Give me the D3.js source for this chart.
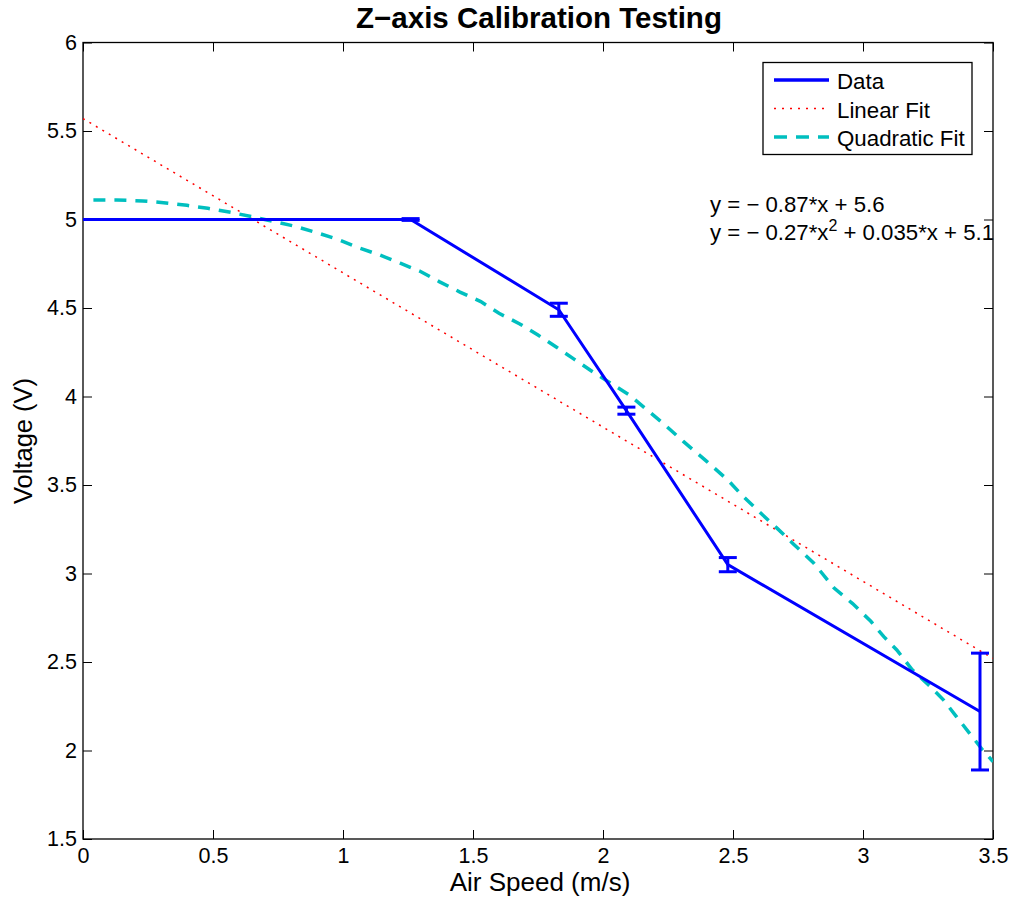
<!DOCTYPE html>
<html>
<head>
<meta charset="utf-8">
<script src="https://cdn.jsdelivr.net/npm/d3@7"></script>
<style>
  body { margin: 0; background: #fff; }
  svg text { font-family: "Liberation Sans", Arial, sans-serif; fill: #000; }
</style>
</head>
<body>
<svg id="chart" width="1013" height="900"></svg>
<script>
// measured data with error bars
var speed = [0, 1.26, 1.83, 2.09, 2.48, 3.45];
var voltage = [5, 5, 4.49, 3.92, 3.05, 2.22];
var voltErr = [0, 0.005, 0.037, 0.02, 0.04, 0.33];

// linear fit, end points
var linX = [0, 3.5];
var linY = [5.57, 2.52];

// quadratic fit, points
var quadX = [0.04, 0.13, 0.23, 0.31, 0.40, 0.48, 0.57, 0.65, 0.73, 0.82, 0.90, 0.98, 1.05, 1.14, 1.22,
  1.30, 1.37, 1.45, 1.53, 1.60, 1.68, 1.75, 1.82, 1.89, 1.96, 2.04, 2.10, 2.17, 2.23, 2.31, 2.40,
  2.48, 2.54, 2.60, 2.67, 2.73, 2.81, 2.89, 2.96, 3.03, 3.08, 3.13, 3.19, 3.26, 3.31, 3.36, 3.41, 3.46, 3.50];
var quadY = [5.11, 5.11, 5.105, 5.095, 5.08, 5.063, 5.04, 5.016, 4.99, 4.96, 4.925, 4.888, 4.846, 4.80, 4.753,
  4.705, 4.649, 4.59, 4.536, 4.47, 4.41, 4.347, 4.28, 4.21, 4.14, 4.065, 4.01, 3.924, 3.85, 3.745, 3.632,
  3.528, 3.434, 3.35, 3.255, 3.17, 3.06, 2.916, 2.83, 2.73, 2.643, 2.568, 2.455, 2.36, 2.285, 2.19, 2.097, 2.003, 1.937];

var xTicks = [0, 0.5, 1, 1.5, 2, 2.5, 3, 3.5];
var yTicks = [1.5, 2, 2.5, 3, 3.5, 4, 4.5, 5, 5.5, 6];

var legendNames = ["Data", "Linear Fit", "Quadratic Fit"];
var eqLinear = "y = \u2212 0.87*x + 5.6";

var margin = {top: 42.5, right: 20, bottom: 61, left: 83},
    width = 993 - margin.left,
    height = 839 - margin.top;

var svg = d3.select("#chart");
var g = svg.append("g")
  .attr("transform", "translate(" + margin.left + "," + margin.top + ")");

var x = d3.scaleLinear().domain([0, 3.5]).range([0, width]);
var y = d3.scaleLinear().domain([1.5, 6]).range([height, 0]);

var fmt = d3.format("~g");

g.append("defs").append("clipPath").attr("id", "clip")
  .append("rect").attr("width", width).attr("height", height);

// axes, ticks pointing inward on all four sides
function styleAxis(sel) {
  sel.select(".domain").remove();
  sel.selectAll(".tick line").attr("stroke", "#000");
  sel.selectAll(".tick text").attr("font-size", 21.5).attr("fill", "#000");
}

g.append("g")
  .attr("transform", "translate(0," + height + ")")
  .call(d3.axisBottom(x).tickValues(xTicks).tickFormat(fmt).tickSizeInner(-9).tickSizeOuter(0).tickPadding(14))
  .call(styleAxis)
  .selectAll(".tick text").attr("dy", "0.71em").attr("y", 9);

g.append("g")
  .call(d3.axisTop(x).tickValues(xTicks).tickSizeInner(-9).tickSizeOuter(0).tickFormat(""))
  .call(styleAxis);

g.append("g")
  .call(d3.axisLeft(y).tickValues(yTicks).tickFormat(fmt).tickSizeInner(-9).tickSizeOuter(0).tickPadding(14))
  .call(styleAxis)
  .selectAll(".tick text").attr("x", -6);

g.append("g")
  .attr("transform", "translate(" + width + ",0)")
  .call(d3.axisRight(y).tickValues(yTicks).tickSizeInner(-9).tickSizeOuter(0).tickFormat(""))
  .call(styleAxis);

g.append("rect")
  .attr("width", width).attr("height", height)
  .attr("fill", "none").attr("stroke", "#000").attr("stroke-width", 1.3);

var plot = g.append("g").attr("clip-path", "url(#clip)");

// linear fit
plot.append("path")
  .datum(d3.zip(linX, linY))
  .attr("fill", "none")
  .attr("stroke", "#ff0000")
  .attr("stroke-width", 1.5)
  .attr("stroke-dasharray", "2,5.5")
  .attr("d", d3.line().x(function(d) { return x(d[0]); }).y(function(d) { return y(d[1]); }));

// quadratic fit
plot.append("path")
  .datum(d3.zip(quadX, quadY))
  .attr("fill", "none")
  .attr("stroke", "#00bfbf")
  .attr("stroke-width", 3.5)
  .attr("stroke-dasharray", "12,9")
  .attr("d", d3.line().x(function(d) { return x(d[0]); }).y(function(d) { return y(d[1]); }));

// data line
var pts = d3.zip(speed, voltage, voltErr);
g.append("path")
  .datum(pts)
  .attr("fill", "none")
  .attr("stroke", "#0000ff")
  .attr("stroke-width", 3)
  .attr("d", d3.line().x(function(d) { return x(d[0]); }).y(function(d) { return y(d[1]); }));

// error bars
var capW = 9;
var bars = g.selectAll(".err")
  .data(pts.filter(function(d) { return d[2] > 0; }))
  .enter().append("g").attr("class", "err")
  .attr("stroke", "#0000ff").attr("stroke-width", 3);

bars.append("line")
  .attr("x1", function(d) { return x(d[0]); })
  .attr("x2", function(d) { return x(d[0]); })
  .attr("y1", function(d) { return y(d[1] - d[2]); })
  .attr("y2", function(d) { return y(d[1] + d[2]); });
bars.append("line")
  .attr("x1", function(d) { return x(d[0]) - capW; })
  .attr("x2", function(d) { return x(d[0]) + capW; })
  .attr("y1", function(d) { return y(d[1] + d[2]); })
  .attr("y2", function(d) { return y(d[1] + d[2]); });
bars.append("line")
  .attr("x1", function(d) { return x(d[0]) - capW; })
  .attr("x2", function(d) { return x(d[0]) + capW; })
  .attr("y1", function(d) { return y(d[1] - d[2]); })
  .attr("y2", function(d) { return y(d[1] - d[2]); });

// legend
var leg = svg.append("g").attr("transform", "translate(763,62.5)");
leg.append("rect")
  .attr("width", 209).attr("height", 92)
  .attr("fill", "#fff").attr("stroke", "#000").attr("stroke-width", 1.3);

var legStyles = [
  {stroke: "#0000ff", w: 3.5, dash: null},
  {stroke: "#ff0000", w: 1.5, dash: "2,6"},
  {stroke: "#00bfbf", w: 3.5, dash: "13,9"}
];
var legItem = leg.selectAll(".legend")
  .data(legendNames)
  .enter().append("g")
  .attr("class", "legend")
  .attr("transform", function(d, i) { return "translate(0," + (17.5 + i * 28.5) + ")"; });

legItem.append("line")
  .attr("x1", 11).attr("x2", 66)
  .attr("stroke", function(d, i) { return legStyles[i].stroke; })
  .attr("stroke-width", function(d, i) { return legStyles[i].w; })
  .attr("stroke-dasharray", function(d, i) { return legStyles[i].dash; });

legItem.append("text")
  .attr("x", 74).attr("y", 9)
  .attr("font-size", 22.3)
  .text(function(d) { return d; });

// fit equations
svg.append("text")
  .attr("x", 710).attr("y", 212)
  .attr("font-size", 22.2)
  .text(eqLinear);

var eq2 = svg.append("text")
  .attr("x", 710).attr("y", 240)
  .attr("font-size", 22.2);
eq2.append("tspan").text("y = \u2212 0.27*x");
eq2.append("tspan").attr("font-size", 16).attr("dy", -9).text("2");
eq2.append("tspan").attr("dy", 9).text(" + 0.035*x + 5.1");

// title and axis labels
svg.append("text")
  .attr("x", 539).attr("y", 28)
  .attr("text-anchor", "middle")
  .attr("font-size", 29.5)
  .attr("font-weight", "bold")
  .text("Z\u2212axis Calibration Testing");

svg.append("text")
  .attr("x", 540).attr("y", 891)
  .attr("text-anchor", "middle")
  .attr("font-size", 26)
  .text("Air Speed (m/s)");

svg.append("text")
  .attr("transform", "translate(32,441) rotate(-90)")
  .attr("text-anchor", "middle")
  .attr("font-size", 25.5)
  .text("Voltage (V)");
</script>
</body>
</html>
